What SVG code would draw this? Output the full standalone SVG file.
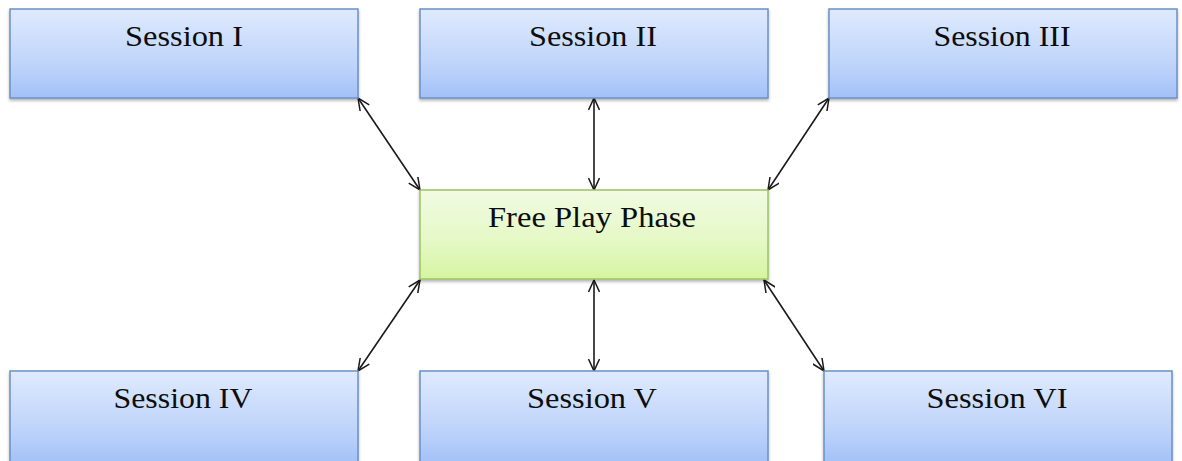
<svg xmlns="http://www.w3.org/2000/svg" width="1182" height="461" viewBox="0 0 1182 461">
<defs>
<linearGradient id="gBlue" x1="0" y1="0" x2="0" y2="1">
<stop offset="0" stop-color="#dfeafd"/>
<stop offset="0.6" stop-color="#c0d5fb"/>
<stop offset="1" stop-color="#a3c1f7"/>
</linearGradient>
<linearGradient id="gGreen" x1="0" y1="0" x2="0" y2="1">
<stop offset="0" stop-color="#f1fbe2"/>
<stop offset="0.6" stop-color="#e4f8c4"/>
<stop offset="1" stop-color="#d5f5a0"/>
</linearGradient>
<filter id="sh" x="-5%" y="-5%" width="110%" height="120%">
<feDropShadow dx="0" dy="2" stdDeviation="1.5" flood-color="#000" flood-opacity="0.3"/>
</filter>
<marker id="ah" viewBox="0 0 14 12" refX="13" refY="6" markerWidth="14" markerHeight="12" markerUnits="userSpaceOnUse" orient="auto-start-reverse">
<path d="M1,0.5 L13,6 L1,11.5" fill="none" stroke="#1a1a1a" stroke-width="1.5"/>
</marker>
</defs>
<style>
.blue{fill:url(#gBlue);stroke:#6a90c6;stroke-width:1.5;filter:url(#sh)}
.green{fill:url(#gGreen);stroke:#9ac464;stroke-width:1.5;filter:url(#sh)}
.lbl{font-family:"Liberation Serif","Times New Roman",serif;font-size:29px;fill:#0d0d0d;text-anchor:middle}
.con{stroke:#1a1a1a;stroke-width:1.6;fill:none;marker-start:url(#ah);marker-end:url(#ah)}
</style>
<g id="connectors">
<line class="con" x1="358" y1="98" x2="420" y2="190"/>
<line class="con" x1="594" y1="98" x2="594" y2="190"/>
<line class="con" x1="829" y1="98" x2="768" y2="190"/>
<line class="con" x1="420" y1="280" x2="358" y2="371"/>
<line class="con" x1="594" y1="280" x2="594" y2="371"/>
<line class="con" x1="764" y1="280" x2="824" y2="371"/>
</g>
<g id="s1"><rect class="blue" x="10" y="9" width="348" height="89"/><text class="lbl" x="184" y="46" textLength="118" lengthAdjust="spacingAndGlyphs">Session I</text></g>
<g id="s2"><rect class="blue" x="420" y="9" width="348" height="89"/><text class="lbl" x="593" y="46" textLength="128" lengthAdjust="spacingAndGlyphs">Session II</text></g>
<g id="s3"><rect class="blue" x="829" y="9" width="348" height="89"/><text class="lbl" x="1002" y="46" textLength="137" lengthAdjust="spacingAndGlyphs">Session III</text></g>
<g id="free"><rect class="green" x="420" y="190" width="348" height="89"/><text class="lbl" x="592" y="227" textLength="208" lengthAdjust="spacingAndGlyphs">Free Play Phase</text></g>
<g id="s4"><rect class="blue" x="10" y="371" width="348" height="92"/><text class="lbl" x="183" y="408" textLength="139" lengthAdjust="spacingAndGlyphs">Session IV</text></g>
<g id="s5"><rect class="blue" x="420" y="371" width="348" height="92"/><text class="lbl" x="592" y="408" textLength="130" lengthAdjust="spacingAndGlyphs">Session V</text></g>
<g id="s6"><rect class="blue" x="824" y="371" width="348" height="92"/><text class="lbl" x="997" y="408" textLength="141" lengthAdjust="spacingAndGlyphs">Session VI</text></g>
</svg>
